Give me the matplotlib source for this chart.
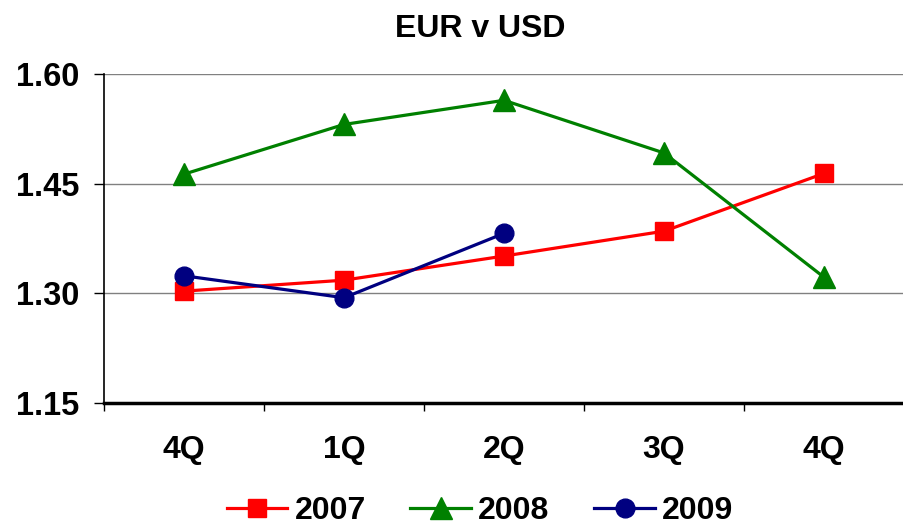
import matplotlib.pyplot as plt
import numpy as np

plt.rcParams['font.family'] = ['Liberation Sans', 'DejaVu Sans']

# Data
quarters = ['4Q', '1Q', '2Q', '3Q', '4Q']
eur_2007 = [1.303, 1.318, 1.351, 1.385, 1.464]
eur_2008 = [1.463, 1.531, 1.564, 1.492, 1.322]
eur_2009 = [1.324, 1.294, 1.382]
years = ['2007', '2008', '2009']
y_ticks = [1.15, 1.30, 1.45, 1.60]

fig = plt.figure(figsize=(9.04, 5.27), dpi=100)
ax = fig.add_axes([104/904, 1 - 403/527, 800/904, (403 - 74)/527])

x = np.arange(len(quarters))
ax.plot(x, eur_2007, '-s', color='#FF0000', lw=2.3, ms=13, label=years[0])
ax.plot(x, eur_2008, '-^', color='#008000', lw=2.3, ms=16, label=years[1])
ax.plot(x[:len(eur_2009)], eur_2009, '-o', color='#000080', lw=2.3, ms=13.5, label=years[2])

ax.set_xlim(-0.5, -0.5 + 800/162)
ax.set_ylim(1.15, 1.60)
ax.set_yticks(y_ticks)
ax.set_yticklabels([f'{v:.2f}' for v in y_ticks], fontsize=23.5, fontweight='bold')
ax.yaxis.grid(True, color='#808080', lw=1)
ax.set_axisbelow(True)

# category labels centered, tick marks between categories
ax.set_xticks(np.arange(-0.5, 4.6, 1.0))
ax.set_xticklabels([])
ax.set_xticks(x, minor=True)
ax.set_xticklabels(quarters, minor=True, fontsize=23, fontweight='bold')
ax.tick_params(axis='x', which='minor', length=0, pad=23)
ax.tick_params(axis='x', which='major', length=6, width=1, direction='out')
ax.tick_params(axis='y', length=7, width=1, direction='out', pad=11)

for s in ['top', 'right']:
    ax.spines[s].set_visible(False)
ax.spines['left'].set_linewidth(1.2)
ax.spines['bottom'].set_linewidth(2.5)

fig.text(480/904, 1 - 29/527, 'EUR v USD', ha='center', va='center',
         fontsize=23, fontweight='bold')

leg = fig.legend(loc='center', bbox_to_anchor=(480/904, 1 - 511/527), ncol=3,
                 frameon=False, prop={'size': 23, 'weight': 'bold'},
                 handlelength=1.9, handletextpad=0.22, columnspacing=1.4,
                 borderaxespad=0, borderpad=0)

fig.savefig('out.png', dpi=100)
